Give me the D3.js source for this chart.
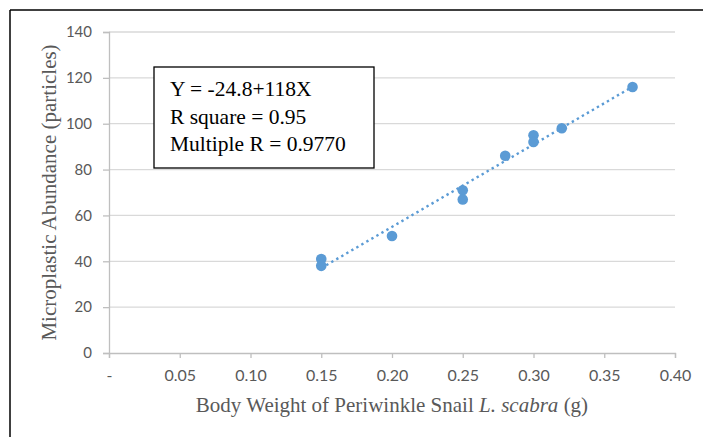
<!DOCTYPE html>
<html>
<head>
<meta charset="utf-8">
<script src="https://cdn.jsdelivr.net/npm/d3@7"></script>
<style>
  body { margin: 0; background: #fff; }
  svg { display: block; }
</style>
</head>
<body>
<script>
// body weight (g) and microplastic count per snail
var weights = [0.15, 0.15, 0.20, 0.25, 0.25, 0.28, 0.30, 0.30, 0.32, 0.37];
var particles = [41, 38, 51, 71, 67, 86, 95, 92, 98, 116];
var xTicks = [0, 0.05, 0.10, 0.15, 0.20, 0.25, 0.30, 0.35, 0.40];
var yTicks = [0, 20, 40, 60, 80, 100, 120, 140];
var boxLines = ["Y = -24.8+118X", "R square = 0.95", "Multiple R = 0.9770"];

var W = 703, H = 437;
var margin = { top: 32, right: 28, bottom: 84, left: 109 };
var width = W - margin.left - margin.right;
var height = H - margin.top - margin.bottom;
var blue = "#5b9bd5";

var svg = d3.select("body").append("svg")
    .attr("width", W)
    .attr("height", H);

// frame (top and left edges only are visible)
svg.append("line").attr("x1", 10).attr("y1", 10).attr("x2", W).attr("y2", 10)
    .attr("stroke", "#000").attr("stroke-width", 1.5);
svg.append("line").attr("x1", 10).attr("y1", 10).attr("x2", 10).attr("y2", H)
    .attr("stroke", "#000").attr("stroke-width", 1.5);

var g = svg.append("g")
    .attr("transform", "translate(" + margin.left + "," + margin.top + ")");

var xScale = d3.scaleLinear().domain([0, 0.40]).range([0, width]);
var yScale = d3.scaleLinear().domain([0, 140]).range([height, 0]);

// horizontal gridlines
g.append("g").selectAll("line")
    .data(yTicks.filter(function (d) { return d > 0; }))
    .enter().append("line")
    .attr("x1", 0).attr("x2", width)
    .attr("y1", function (d) { return yScale(d); })
    .attr("y2", function (d) { return yScale(d); })
    .attr("stroke", "#d9d9d9").attr("stroke-width", 1.3);

// y axis
var yAxis = g.append("g")
    .call(d3.axisLeft(yScale).tickValues(yTicks).tickSize(6).tickPadding(11));
yAxis.select(".domain").attr("stroke", "#bfbfbf").attr("stroke-width", 1.3);
yAxis.selectAll(".tick line").attr("stroke", "#bfbfbf").attr("stroke-width", 1.3);
yAxis.selectAll("text")
    .attr("fill", "#595959")
    .style("font-family", "Lato, 'Open Sans', sans-serif")
    .style("font-size", "15px");

// x axis
var xAxis = g.append("g")
    .attr("transform", "translate(0," + height + ")")
    .call(d3.axisBottom(xScale).tickValues(xTicks).tickSize(5).tickPadding(12)
        .tickFormat(function (d) { return d === 0 ? "-" : d.toFixed(2); }));
xAxis.select(".domain").attr("stroke", "#bfbfbf").attr("stroke-width", 1.3);
xAxis.selectAll(".tick line").attr("stroke", "#bfbfbf").attr("stroke-width", 1.3);
xAxis.selectAll("text")
    .attr("fill", "#595959")
    .style("font-family", "Lato, 'Open Sans', sans-serif")
    .style("font-size", "16px");

// least squares trendline over the data range
var mx = d3.mean(weights), my = d3.mean(particles);
var sxy = d3.sum(weights, function (x, i) { return (x - mx) * (particles[i] - my); });
var sxx = d3.sum(weights, function (x) { return (x - mx) * (x - mx); });
var slope = sxy / sxx, icpt = my - slope * mx;
var ext = d3.extent(weights);
var trend = ext.map(function (x) { return { x: x, y: icpt + slope * x }; });

g.append("path")
    .datum(trend)
    .attr("fill", "none")
    .attr("stroke", blue)
    .attr("stroke-width", 2.4)
    .attr("stroke-dasharray", "2.4,3.4")
    .attr("d", d3.line()
        .x(function (d) { return xScale(d.x); })
        .y(function (d) { return yScale(d.y); }));

// points
g.append("g").selectAll("circle")
    .data(weights)
    .enter().append("circle")
    .attr("cx", function (d) { return xScale(d); })
    .attr("cy", function (d, i) { return yScale(particles[i]); })
    .attr("r", 5.3)
    .attr("fill", blue);

// equation box
var box = svg.append("g");
box.append("rect")
    .attr("x", 154).attr("y", 67)
    .attr("width", 220).attr("height", 101)
    .attr("fill", "#fff").attr("stroke", "#000").attr("stroke-width", 1.3);
box.selectAll("text")
    .data(boxLines)
    .enter().append("text")
    .attr("x", 170)
    .attr("y", function (d, i) { return 96 + i * 27.5; })
    .style("font-family", "'Liberation Serif', 'Times New Roman', serif")
    .style("font-size", "21.5px")
    .attr("fill", "#000")
    .text(function (d) { return d; });

// axis titles
svg.append("text")
    .attr("transform", "translate(56," + (margin.top + height / 2) + ") rotate(-90)")
    .attr("text-anchor", "middle")
    .attr("fill", "#595959")
    .style("font-family", "'Liberation Serif', 'Times New Roman', serif")
    .style("font-size", "21px")
    .text("Microplastic Abundance (particles)");

var xt = svg.append("text")
    .attr("x", margin.left + width / 2)
    .attr("y", 412)
    .attr("text-anchor", "middle")
    .attr("fill", "#595959")
    .style("font-family", "'Liberation Serif', 'Times New Roman', serif")
    .style("font-size", "21px");
xt.append("tspan").text("Body Weight of Periwinkle Snail ");
xt.append("tspan").style("font-style", "italic").text("L. scabra");
xt.append("tspan").text(" (g)");
</script>
</body>
</html>
